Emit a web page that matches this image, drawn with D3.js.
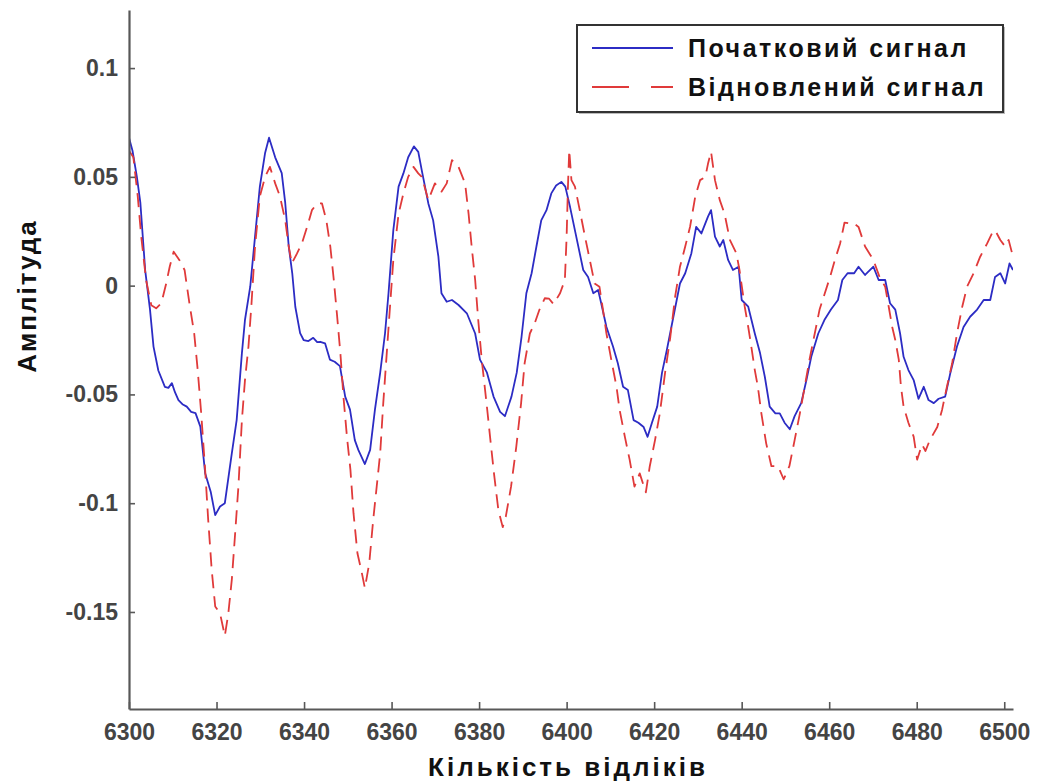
<!DOCTYPE html>
<html>
<head>
<meta charset="utf-8">
<script src="https://cdn.jsdelivr.net/npm/d3@7"></script>
<style>
  html, body { margin: 0; padding: 0; background: #fff; }
  svg { display: block; }
</style>
</head>
<body>
<svg id="chart" width="1038" height="782"></svg>
<script>
// Sample indices and amplitudes of the original signal
const origT = [6300,6300.8,6301.8,6302.6,6303.7,6304.8,6305.6,6306.7,6308.2,6309.0,6309.8,6310.5,6311.3,6312.2,6313.2,6314.2,6315.2,6316.3,6317.4,6318.7,6319.7,6320.8,6321.9,6323.5,6324.6,6325.8,6326.5,6327.7,6328.8,6329.9,6331.1,6332.0,6333.4,6334.9,6335.7,6336.5,6337.3,6338.0,6339.1,6339.9,6341.0,6342.1,6343.0,6343.7,6344.8,6345.9,6347.0,6348.2,6349.4,6350.5,6351.6,6352.4,6353.9,6355.1,6356.2,6357.4,6358.5,6359.3,6360.4,6361.6,6362.7,6363.8,6365.1,6366.1,6366.9,6368.4,6369.5,6370.7,6371.4,6372.6,6373.8,6375.3,6377.2,6379.1,6380.2,6381.8,6383.3,6384.8,6385.9,6387.4,6388.6,6389.7,6390.8,6392.0,6393.1,6394.2,6395.4,6396.5,6397.6,6398.8,6399.7,6400.8,6402.2,6403.8,6404.9,6406.1,6407.2,6407.9,6409.1,6410.6,6411.7,6412.9,6414.0,6415.3,6416.4,6417.6,6418.5,6419.5,6420.7,6421.8,6422.9,6424.4,6425.9,6427.1,6428.5,6429.6,6430.8,6432.3,6433.0,6433.9,6435.0,6435.8,6436.9,6438.0,6439.3,6440.0,6441.5,6443.0,6444.2,6445.3,6446.4,6447.7,6448.7,6449.8,6451.0,6452.1,6453.6,6454.8,6455.9,6457.5,6458.9,6460.4,6462.0,6463.0,6464.2,6465.7,6466.7,6468.2,6470.1,6471.3,6472.8,6473.9,6475.1,6476.2,6477.0,6478.1,6479.3,6480.4,6481.6,6482.7,6483.9,6485.0,6486.5,6487.7,6489.2,6490.7,6492.2,6493.8,6495.3,6496.8,6497.9,6499.1,6500.2,6501.2,6502.0];
const origV = [0.068,0.062,0.050,0.038,0.007,-0.011,-0.028,-0.039,-0.0465,-0.047,-0.0448,-0.049,-0.0526,-0.0545,-0.0556,-0.058,-0.0586,-0.0648,-0.0862,-0.095,-0.1055,-0.1015,-0.100,-0.077,-0.0618,-0.031,-0.0158,-0.0005,0.0225,0.0455,0.061,0.068,0.059,0.0517,0.038,0.018,0.0058,-0.0097,-0.0218,-0.025,-0.0255,-0.024,-0.026,-0.0258,-0.0265,-0.034,-0.035,-0.037,-0.051,-0.057,-0.071,-0.0755,-0.082,-0.0755,-0.057,-0.040,-0.022,-0.0035,0.0255,0.0455,0.0516,0.059,0.064,0.0615,0.053,0.0378,0.030,0.0133,-0.0035,-0.0074,-0.0066,-0.0089,-0.0127,-0.022,-0.034,-0.040,-0.051,-0.058,-0.060,-0.051,-0.040,-0.0235,-0.0035,0.0057,0.018,0.030,0.0347,0.0424,0.046,0.0477,0.0455,0.036,0.0225,0.0072,0.004,-0.0035,-0.002,-0.0081,-0.019,-0.028,-0.0357,-0.0465,-0.048,-0.0618,-0.063,-0.065,-0.0695,-0.063,-0.0556,-0.040,-0.0296,-0.0143,0.001,0.0057,0.0148,0.027,0.024,0.0317,0.0347,0.0225,0.018,0.021,0.0118,0.0072,0.0087,-0.0066,-0.0097,-0.022,-0.031,-0.042,-0.0556,-0.0587,-0.0587,-0.063,-0.066,-0.060,-0.054,-0.0434,-0.0327,-0.022,-0.0158,-0.011,-0.0066,0.0026,0.0057,0.0057,0.0087,0.0049,0.0087,0.0026,0.0026,-0.0081,-0.011,-0.022,-0.0327,-0.0388,-0.0434,-0.052,-0.0465,-0.0526,-0.054,-0.052,-0.051,-0.040,-0.028,-0.019,-0.0143,-0.011,-0.0066,-0.0066,0.004,0.0057,0.001,0.0102,0.0072];

// Sample indices and amplitudes of the reconstructed signal
const recT = [6300,6301,6302,6302.8,6303.9,6305.1,6306.2,6307.4,6308.5,6309.3,6310.2,6311.5,6312.7,6313.8,6314.9,6315.7,6316.5,6317.4,6318.1,6318.9,6319.7,6320.8,6321.9,6322.7,6323.5,6324.2,6325.0,6325.8,6326.5,6327.3,6328.0,6328.8,6329.9,6331.1,6332.2,6333.4,6334.5,6335.7,6336.5,6337.2,6338.4,6339.5,6340.7,6341.8,6343.0,6344.1,6345.1,6346.0,6346.8,6347.5,6348.3,6349.0,6349.8,6350.6,6351.3,6352.2,6353.2,6353.9,6354.9,6355.8,6356.6,6357.4,6358.1,6358.9,6359.7,6360.4,6361.6,6362.7,6363.8,6365.0,6366.1,6366.9,6368.4,6369.9,6371.4,6372.6,6373.8,6375.3,6376.8,6377.6,6378.3,6379.1,6379.8,6380.6,6381.7,6382.5,6383.4,6384.4,6385.4,6386.1,6387.3,6388.5,6389.6,6390.4,6391.6,6392.7,6393.8,6395.0,6396.0,6397.0,6398.5,6399.6,6400.0,6400.3,6400.6,6401.1,6401.9,6403.0,6404.2,6405.3,6406.4,6407.5,6408.3,6409.1,6410.2,6411.4,6412.1,6413.3,6414.4,6415.5,6416.7,6418.1,6419.0,6420.2,6421.3,6422.5,6423.7,6424.8,6425.9,6427.1,6428.2,6429.4,6430.5,6431.7,6432.3,6433.0,6433.9,6435.0,6436.1,6437.3,6438.8,6439.5,6440.7,6441.5,6442.2,6443.0,6443.7,6444.5,6445.6,6446.8,6448.3,6449.6,6450.9,6452.1,6453.3,6454.4,6455.5,6456.7,6457.8,6459.0,6460.2,6461.3,6462.5,6463.5,6464.8,6465.6,6466.7,6468.2,6470.1,6471.5,6472.8,6473.6,6474.4,6475.1,6475.9,6476.4,6477.0,6478.1,6479.3,6480.1,6481.2,6482.0,6483.0,6484.7,6485.8,6486.9,6488.1,6489.2,6490.4,6491.5,6493.0,6494.5,6496.1,6497.2,6497.9,6499.1,6500.2,6501.0,6502.0];
const recV = [0.062,0.059,0.041,0.0225,0.0026,-0.009,-0.0104,-0.008,0.001,0.0087,0.0156,0.0118,0.0072,-0.008,-0.022,-0.0388,-0.0587,-0.0847,-0.1077,-0.1307,-0.1475,-0.1506,-0.161,-0.1506,-0.135,-0.1154,-0.0924,-0.0618,-0.0434,-0.028,-0.008,0.018,0.041,0.050,0.0546,0.047,0.041,0.030,0.018,0.0102,0.0148,0.0194,0.027,0.0347,0.0378,0.0378,0.030,0.018,0.0026,-0.0127,-0.031,-0.051,-0.0694,-0.0847,-0.1046,-0.123,-0.132,-0.139,-0.1276,-0.1077,-0.0924,-0.077,-0.054,-0.031,-0.008,0.0118,0.033,0.0424,0.050,0.0546,0.0516,0.050,0.0393,0.047,0.0432,0.047,0.0577,0.0546,0.047,0.033,0.018,0.0026,-0.0158,-0.034,-0.054,-0.0694,-0.0863,-0.1031,-0.111,-0.1062,-0.0924,-0.074,-0.054,-0.0357,-0.022,-0.0173,-0.011,-0.0058,-0.006,-0.0085,-0.0035,0.0026,0.0225,0.0455,0.0623,0.0485,0.0455,0.0347,0.0225,0.0118,0.001,-0.0005,-0.011,-0.022,-0.034,-0.0465,-0.057,-0.0694,-0.080,-0.0924,-0.0863,-0.095,-0.083,-0.071,-0.0587,-0.040,-0.0235,-0.005,0.0087,0.018,0.027,0.041,0.0485,0.050,0.056,0.0615,0.0485,0.0393,0.033,0.021,0.0148,0.0072,-0.0097,-0.019,-0.028,-0.0388,-0.0465,-0.0587,-0.0725,-0.083,-0.083,-0.089,-0.083,-0.071,-0.0587,-0.0465,-0.034,-0.022,-0.011,-0.0035,0.004,0.0118,0.0194,0.029,0.0286,0.0286,0.027,0.018,0.0118,0.004,-0.0005,-0.0097,-0.019,-0.025,-0.034,-0.0465,-0.0556,-0.063,-0.0694,-0.080,-0.073,-0.076,-0.071,-0.065,-0.057,-0.0465,-0.0357,-0.022,-0.0097,-0.0005,0.0057,0.0133,0.0194,0.024,0.0255,0.021,0.018,0.021,0.0133];

// Axis ticks and labels
const xTicks = [6300, 6320, 6340, 6360, 6380, 6400, 6420, 6440, 6460, 6480, 6500];
const yTicks = [-0.15, -0.1, -0.05, 0, 0.05, 0.1];
const yTickLabels = ["-0.15", "-0.1", "-0.05", "0", "0.05", "0.1"];

const seriesNames = ["Початковий сигнал", "Відновлений сигнал"];
const xTitle = "Кількість відліків";
const yTitle = "Амплітуда";

const svg = d3.select("#chart");
const plot = { left: 129, right: 1013, top: 10, bottom: 709 };

const x = d3.scaleLinear().domain([6300, 6502]).range([plot.left, plot.right]);
const y = d3.scaleLinear().domain([-0.1946, 0.1267]).range([plot.bottom, plot.top]);

svg.append("defs").append("clipPath").attr("id", "plotClip")
  .append("rect")
  .attr("x", plot.left).attr("y", plot.top)
  .attr("width", plot.right - plot.left).attr("height", plot.bottom - plot.top);

const line = d3.line().x(d => x(d[0])).y(d => y(d[1]));
const origData = origT.map((t, i) => [t, origV[i]]);
const recData = recT.map((t, i) => [t, recV[i]]);

const g = svg.append("g").attr("clip-path", "url(#plotClip)");
g.append("path").datum(origData)
  .attr("d", line).attr("fill", "none")
  .attr("stroke", "#2c2cc4").attr("stroke-width", 1.8)
  .attr("stroke-linejoin", "round");
g.append("path").datum(recData)
  .attr("d", line).attr("fill", "none")
  .attr("stroke", "#e03a3a").attr("stroke-width", 1.8)
  .attr("stroke-dasharray", "14,8")
  .attr("stroke-linejoin", "round");

// Axes: left and bottom only, ticks pointing inward
const axisColor = "#585858";
const tickFont = "'Liberation Sans', Arial, sans-serif";

const yAxis = d3.axisLeft(y).tickValues(yTicks)
  .tickFormat((d, i) => yTickLabels[i])
  .tickSizeInner(-6).tickSizeOuter(0).tickPadding(11);
const yG = svg.append("g").attr("transform", `translate(${plot.left},0)`).call(yAxis);

const xAxis = d3.axisBottom(x).tickValues(xTicks)
  .tickFormat(d3.format("d"))
  .tickSizeInner(-7).tickSizeOuter(0).tickPadding(15);
const xG = svg.append("g").attr("transform", `translate(0,${plot.bottom})`).call(xAxis);

[yG, xG].forEach(a => {
  a.select(".domain").attr("stroke", axisColor).attr("stroke-width", 2.2);
  a.selectAll(".tick line").attr("stroke", axisColor).attr("stroke-width", 1.6);
  a.selectAll(".tick text")
    .attr("fill", "#444")
    .style("font-family", tickFont)
    .style("font-size", "23px")
    .style("font-weight", "bold");
});

// Axis titles
svg.append("text")
  .attr("x", (plot.left + plot.right) / 2 - 3).attr("y", 776)
  .attr("text-anchor", "middle")
  .style("font-family", tickFont).style("font-size", "26px").style("font-weight", "bold")
  .style("letter-spacing", "3px")
  .attr("fill", "#111")
  .text(xTitle);

svg.append("text")
  .attr("transform", "translate(36,296) rotate(-90)")
  .attr("text-anchor", "middle")
  .style("font-family", tickFont).style("font-size", "26px").style("font-weight", "bold")
  .style("letter-spacing", "2px")
  .attr("fill", "#111")
  .text(yTitle);

// Legend
const legend = svg.append("g");
legend.append("rect")
  .attr("x", 579).attr("y", 27).attr("width", 426).attr("height", 87)
  .attr("fill", "#bbb");
legend.append("rect")
  .attr("x", 577).attr("y", 25).attr("width", 426).attr("height", 87)
  .attr("fill", "#fff").attr("stroke", "#333").attr("stroke-width", 2);

const legendRows = [
  { name: seriesNames[0], color: "#2c2cc4", dash: null, y: 48 },
  { name: seriesNames[1], color: "#e03a3a", dash: "37,22", y: 87 }
];
legendRows.forEach(r => {
  legend.append("line")
    .attr("x1", 592).attr("x2", 673).attr("y1", r.y).attr("y2", r.y)
    .attr("stroke", r.color).attr("stroke-width", 1.8)
    .attr("stroke-dasharray", r.dash);
  legend.append("text")
    .attr("x", 688).attr("y", r.y + 9)
    .style("font-family", tickFont).style("font-size", "25px").style("font-weight", "bold")
    .style("letter-spacing", "2.5px")
    .attr("fill", "#111")
    .text(r.name);
});
</script>
</body>
</html>
